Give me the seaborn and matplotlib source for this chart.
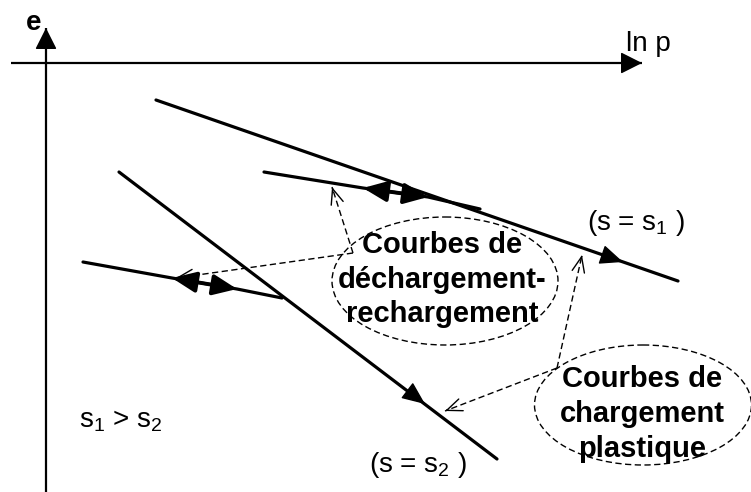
import numpy as np
import pandas as pd
import matplotlib
matplotlib.use("Agg")
import matplotlib.pyplot as plt
import seaborn as sns
from matplotlib.patches import Ellipse

# Compression curves in the (ln p, e) plane, drawn in a pixel-like frame
loading_s1_x = [156, 678]
loading_s1_y = [100, 281]
loading_s2_x = [119, 497]
loading_s2_y = [172, 459]
unload_upper_x = [264, 363, 428, 480]
unload_upper_y = [172, 188, 197, 209]
unload_lower_x = [83, 172, 237, 282]
unload_lower_y = [262, 278, 289, 298]

# Direction arrows placed on the curves
loading_arrow_tips = [(623, 262), (425, 404)]
cycle_upper = [(363, 188), (428, 197)]
cycle_lower = [(172, 278), (237, 289)]

# Axes of the diagram
axis_e = [(46, 492), (46, 28)]
axis_lnp = [(11, 63), (642, 63)]

# Callouts
ellipse_cycles = (445, 281, 226, 128)
ellipse_loading = (643, 405, 217, 120)
callout_cycles_origin = (353, 253)
callout_cycles_tips = [(332, 187), (176, 278)]
callout_loading_origin = (557, 368)
callout_loading_tips = [(582, 255), (445, 411)]

label_cycles = ["Courbes de", "déchargement-", "rechargement"]
label_cycles_baselines = [253, 288, 322]
label_loading = ["Courbes de", "chargement", "plastique"]
label_loading_baselines = [387, 422, 457]

sns.set_theme(style="white")
plt.rcParams["font.family"] = ["Liberation Sans", "DejaVu Sans"]
plt.rcParams["mathtext.fontset"] = "custom"
plt.rcParams["mathtext.rm"] = "Liberation Sans"
plt.rcParams["mathtext.it"] = "Liberation Sans"
plt.rcParams["mathtext.bf"] = "Liberation Sans:bold"
plt.rcParams["mathtext.default"] = "regular"

fig = plt.figure(figsize=(7.51, 4.92), dpi=100)
ax = fig.add_axes([0, 0, 1, 1])
ax.set_xlim(0, 751)
ax.set_ylim(492, 0)
ax.axis("off")

K = "black"
LW = 2.3

curves = pd.concat([
    pd.DataFrame({"x": loading_s1_x, "y": loading_s1_y, "c": "s1"}),
    pd.DataFrame({"x": loading_s2_x, "y": loading_s2_y, "c": "s2"}),
    pd.DataFrame({"x": unload_upper_x, "y": unload_upper_y, "c": "u1"}),
    pd.DataFrame({"x": unload_lower_x, "y": unload_lower_y, "c": "u2"}),
])
sns.lineplot(data=curves, x="x", y="y", units="c", estimator=None, sort=False,
             color=K, lw=LW, ax=ax, legend=False)


def head(tip, direction, style, lw=1.0):
    d = np.asarray(direction, float)
    d /= np.hypot(*d)
    start = (tip[0] - 2 * d[0], tip[1] - 2 * d[1])
    ax.annotate("", xy=tip, xytext=start,
                arrowprops=dict(arrowstyle=style, lw=lw, color=K,
                                shrinkA=0, shrinkB=0, mutation_scale=10))


# axes with arrow heads
for (x0, y0), (x1, y1) in [axis_e, axis_lnp]:
    ax.plot([x0, x1], [y0, y1], color=K, lw=1.6, solid_capstyle="butt")
    head((x1, y1), (x1 - x0, y1 - y0), "-|>,head_length=1.35,head_width=0.68")

# loading direction arrows
for tip, xs, ys in zip(loading_arrow_tips, [loading_s1_x, loading_s2_x],
                       [loading_s1_y, loading_s2_y]):
    head(tip, (xs[1] - xs[0], ys[1] - ys[0]),
         "-|>,head_length=1.45,head_width=0.62")

# unloading / reloading double arrows
for (a, b) in [cycle_upper, cycle_lower]:
    ax.annotate("", xy=b, xytext=a,
                arrowprops=dict(arrowstyle="<|-|>,head_length=1.45,head_width=0.62",
                                lw=2.8, color=K, shrinkA=0, shrinkB=0,
                                mutation_scale=10))

# dashed ellipses
DASH = (0, (4.5, 2.5))
for cx, cy, w, h in [ellipse_cycles, ellipse_loading]:
    ax.add_patch(Ellipse((cx, cy), w, h, fill=False, ec=K, lw=1.0, ls=DASH))

# dashed callout arrows
for origin, tips in [(callout_cycles_origin, callout_cycles_tips),
                     (callout_loading_origin, callout_loading_tips)]:
    for tip in tips:
        ax.plot([origin[0], tip[0]], [origin[1], tip[1]], color=K, lw=1.0, ls=DASH)
        head(tip, (tip[0] - origin[0], tip[1] - origin[1]),
             "->,head_length=1.1,head_width=0.45", lw=1.0)

# callout labels
for txt, yb in zip(label_cycles, label_cycles_baselines):
    ax.text(442, yb, txt, ha="center", va="baseline", fontsize=21,
            fontweight="bold", color=K)
for txt, yb in zip(label_loading, label_loading_baselines):
    ax.text(642, yb, txt, ha="center", va="baseline", fontsize=21,
            fontweight="bold", color=K)

# axis names and state labels
ax.text(34, 23, "e", ha="center", va="center", fontsize=20, fontweight="bold", color=K)
ax.text(626, 51, "ln p", ha="left", va="baseline", fontsize=20, color=K)
ax.text(587, 230, "(s = s$_1$ )", ha="left", va="baseline", fontsize=20, color=K)
ax.text(369, 472, "(s = s$_2$ )", ha="left", va="baseline", fontsize=20, color=K)
ax.text(79, 427, "s$_1$ > s$_2$", ha="left", va="baseline", fontsize=20, color=K)

fig.savefig("out.png", dpi=100, facecolor="white")
